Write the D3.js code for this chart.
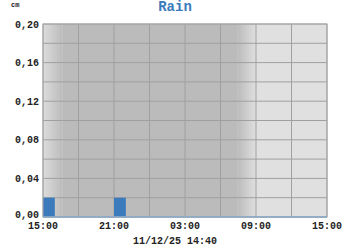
<!DOCTYPE html>
<meta charset="utf-8">
<html>
<head>
<style>
  body { margin: 0; background: #fff; }
  text { font-family: "Liberation Mono", "Courier New", monospace; font-weight: bold; }
</style>
</head>
<body>
<div id="rain"></div>
<script src="https://d3js.org/d3.v7.min.js"></script>
<script>

  // data
  var title = "Rain";
  var unit = "cm";
  var stamp = "11/12/25 14:40";
  var barTimes = ["2025-11-11 15:00", "2025-11-11 21:00"];
  var barValues = [0.02, 0.02];
  var yTicks = [0, 0.04, 0.08, 0.12, 0.16, 0.20];
  var xTicks = ["2025-11-11 15:00", "2025-11-11 21:00", "2025-11-12 03:00", "2025-11-12 09:00", "2025-11-12 15:00"];
  var dusk = ["2025-11-11 15:00", "2025-11-11 16:40"];
  var dawn = ["2025-11-12 07:25", "2025-11-12 09:00"];

  var parse = d3.timeParse("%Y-%m-%d %H:%M");

  var margin = {top: 24, right: 23, bottom: 33, left: 43},
      width = 350 - margin.left - margin.right,
      height = 250 - margin.top - margin.bottom;

  var svg = d3.select("#rain")
    .append("svg")
      .attr("width", 350)
      .attr("height", 250);

  var g = svg.append("g")
      .attr("transform", "translate(" + margin.left + "," + margin.top + ")");

  var x = d3.scaleTime()
    .domain([parse(xTicks[0]), parse(xTicks[xTicks.length - 1])])
    .range([0, width]);

  var y = d3.scaleLinear()
    .domain([0, 0.20])
    .range([height, 0]);

  // day / night shading
  var defs = svg.append("defs");
  function grad(id, c0, c1) {
    var lg = defs.append("linearGradient").attr("id", id);
    lg.append("stop").attr("offset", "0%").attr("stop-color", c0);
    lg.append("stop").attr("offset", "100%").attr("stop-color", c1);
  }
  grad("duskGrad", "#dcdcdc", "#bbbbbb");
  grad("dawnGrad", "#bbbbbb", "#dfdfdf");

  g.append("rect")
    .attr("x", 0).attr("y", 0)
    .attr("width", width).attr("height", height)
    .attr("fill", "#e0e0e0");

  g.append("rect")
    .attr("x", x(parse(dusk[1]))).attr("y", 0)
    .attr("width", x(parse(dawn[0])) - x(parse(dusk[1])))
    .attr("height", height)
    .attr("fill", "#bbbbbb");

  g.append("rect")
    .attr("x", x(parse(dusk[0]))).attr("y", 0)
    .attr("width", x(parse(dusk[1])) - x(parse(dusk[0])))
    .attr("height", height)
    .attr("fill", "url(#duskGrad)");

  g.append("rect")
    .attr("x", x(parse(dawn[0]))).attr("y", 0)
    .attr("width", x(parse(dawn[1])) - x(parse(dawn[0])))
    .attr("height", height)
    .attr("fill", "url(#dawnGrad)");

  // grid
  var hours = d3.timeHour.every(3).range(x.domain()[0], d3.timeMinute.offset(x.domain()[1], 1));
  g.selectAll(".vgrid")
    .data(hours)
    .enter().append("line")
      .attr("x1", function(d) { return x(d); })
      .attr("x2", function(d) { return x(d); })
      .attr("y1", 0).attr("y2", height)
      .attr("stroke", "#a0a0a0")
      .attr("stroke-width", 1);

  g.selectAll(".hgrid")
    .data(d3.range(0, 0.2001, 0.02))
    .enter().append("line")
      .attr("x1", 0).attr("x2", width)
      .attr("y1", function(d) { return y(d); })
      .attr("y2", function(d) { return y(d); })
      .attr("stroke", "#a0a0a0")
      .attr("stroke-width", 1);

  // bars, one hour wide
  g.selectAll(".bar")
    .data(barTimes)
    .enter().append("rect")
      .attr("x", function(d) { return x(parse(d)); })
      .attr("y", function(d, i) { return y(barValues[i]); })
      .attr("width", function(d) { return x(d3.timeHour.offset(parse(d), 1)) - x(parse(d)); })
      .attr("height", function(d, i) { return height - y(barValues[i]); })
      .attr("fill", "#3b7bbb");

  // frame
  g.append("rect")
    .attr("x", 0).attr("y", 0)
    .attr("width", width).attr("height", height)
    .attr("fill", "none")
    .attr("stroke", "#a8a8a8");

  g.append("line")
    .attr("x1", 0).attr("x2", width)
    .attr("y1", height).attr("y2", height)
    .attr("stroke", "#8aaac8")
    .attr("stroke-width", 1.5);

  // y labels
  g.selectAll(".ylab")
    .data(yTicks)
    .enter().append("text")
      .attr("x", -4)
      .attr("y", function(d) { return y(d) + (d === 0 ? 1 : 3.5); })
      .attr("text-anchor", "end")
      .attr("font-size", "10px")
      .attr("fill", "#222")
      .text(function(d) { return d.toFixed(2).replace(".", ","); });

  // x labels
  g.selectAll(".xlab")
    .data(xTicks)
    .enter().append("text")
      .attr("x", function(d) { return x(parse(d)); })
      .attr("y", height + 12)
      .attr("text-anchor", "middle")
      .attr("font-size", "10px")
      .attr("fill", "#222")
      .text(function(d) { return d3.timeFormat("%H:%M")(parse(d)); });

  svg.append("text")
    .attr("x", 175).attr("y", 11)
    .attr("text-anchor", "middle")
    .attr("font-size", "14px")
    .attr("fill", "#3b7bbb")
    .text(title);

  svg.append("text")
    .attr("x", 11).attr("y", 7)
    .attr("font-size", "7px")
    .attr("fill", "#222")
    .text(unit);

  svg.append("text")
    .attr("x", 175).attr("y", 244)
    .attr("text-anchor", "middle")
    .attr("font-size", "10px")
    .attr("fill", "#222")
    .text(stamp);

</script>
</body>
</html>
